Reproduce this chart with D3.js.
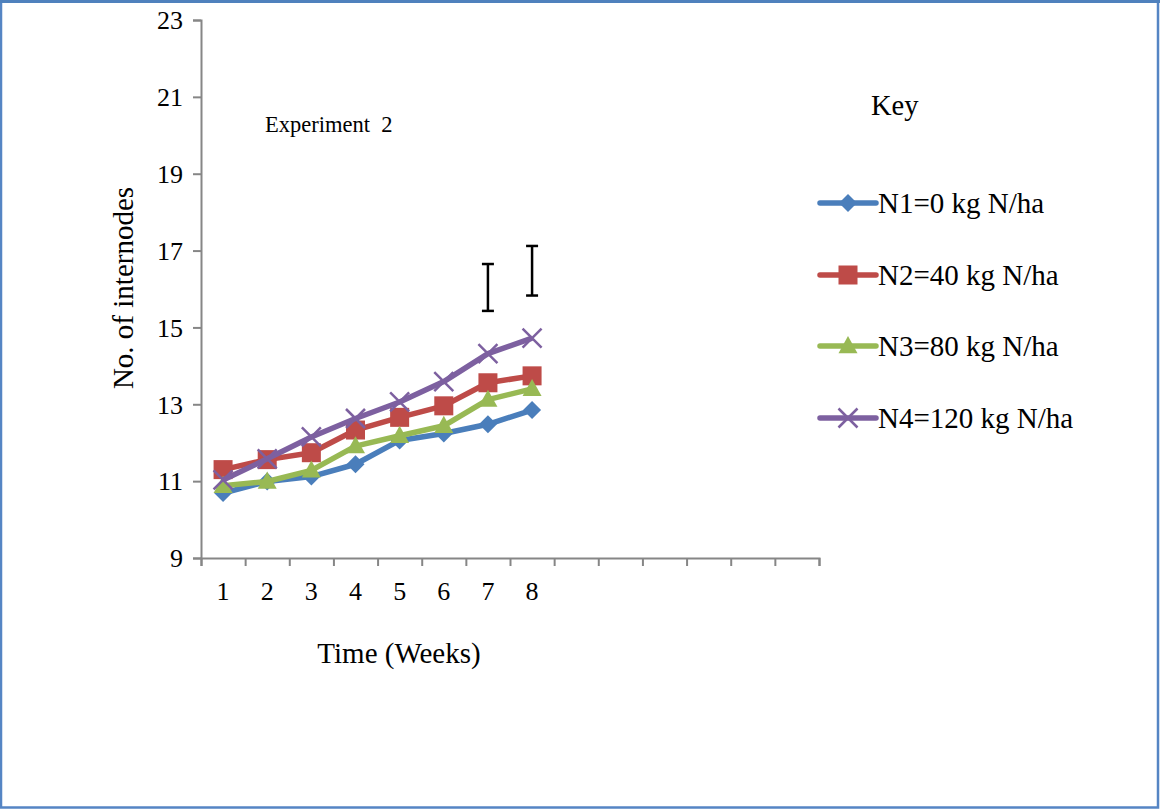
<!DOCTYPE html>
<html>
<head>
<meta charset="utf-8">
<script src="https://cdn.jsdelivr.net/npm/d3@7"></script>
<style>
  html, body { margin: 0; padding: 0; background: #fff; }
  svg { display: block; }
  text { fill: #000; }
</style>
</head>
<body>
<svg id="chart" width="1160" height="810"></svg>
<script>
// Number of internodes over time, Experiment 2
const weeks = ["1", "2", "3", "4", "5", "6", "7", "8"];
const slotCount = 14;               // category slots on the time axis
const yTicks = [9, 11, 13, 15, 17, 19, 21, 23];

const seriesNames = ["N1=0 kg N/ha", "N2=40 kg N/ha", "N3=80 kg N/ha", "N4=120 kg N/ha"];
const n1 = [10.69, 10.99, 11.12, 11.44, 12.06, 12.24, 12.48, 12.85];
const n2 = [11.30, 11.56, 11.74, 12.33, 12.66, 12.96, 13.56, 13.74];
const n3 = [10.88, 10.99, 11.28, 11.91, 12.18, 12.44, 13.12, 13.40];
const n4 = [11.03, 11.58, 12.15, 12.63, 13.06, 13.59, 14.32, 14.72];

// LSD bars at weeks 7 and 8
const lsdWeeks = ["7", "8"];
const lsdLow = [15.43, 15.83];
const lsdHigh = [16.65, 17.12];

const colors = ["#4A7EBB", "#BE4B48", "#98B954", "#7D60A0"];
const shapes = ["diamond", "square", "triangle", "cross"];
const serif = "'Liberation Serif', 'Times New Roman', serif";

const svg = d3.select("#chart");

// frame
svg.append("rect").attr("x", 1).attr("y", 1.5).attr("width", 1157).attr("height", 806)
  .attr("fill", "none").attr("stroke", "#5585C4").attr("stroke-width", 2.5);
svg.append("line").attr("x1", 0).attr("x2", 1160).attr("y1", 1.5).attr("y2", 1.5)
  .attr("stroke", "#4F81BD").attr("stroke-width", 3);

const plotLeft = 201, plotRight = 819, plotTop = 20, plotBottom = 558;

const slotScale = d3.scaleLinear().domain([0, slotCount]).range([plotLeft, plotRight]);
const slotWidth = (plotRight - plotLeft) / slotCount;
const x = d3.scaleBand().domain(weeks).range([plotLeft, plotLeft + slotWidth * weeks.length]).padding(0);
const cx = d => x(d) + x.bandwidth() / 2;
const y = d3.scaleLinear().domain([9, 23]).range([plotBottom, plotTop]);

const axisColor = "#868686";

// y axis
const yAxis = svg.append("g").attr("transform", `translate(${plotLeft},0)`)
  .call(d3.axisLeft(y).tickValues(yTicks).tickSize(8).tickPadding(10).tickFormat(d3.format("d")));
yAxis.select(".domain").attr("stroke", axisColor).attr("stroke-width", 2);
yAxis.selectAll(".tick line").attr("stroke", axisColor).attr("stroke-width", 2);
yAxis.selectAll(".tick text").attr("font-family", serif).attr("font-size", 26).attr("dy", "0.34em");

// x axis: tick marks between categories, labels centred in slots
const xAxis = svg.append("g").attr("transform", `translate(0,${plotBottom})`)
  .call(d3.axisBottom(slotScale).tickValues(d3.range(0, slotCount + 1)).tickSize(8).tickFormat(""));
xAxis.select(".domain").attr("stroke", axisColor).attr("stroke-width", 2);
xAxis.selectAll(".tick line").attr("stroke", axisColor).attr("stroke-width", 2);

const xLabels = svg.append("g").attr("transform", `translate(0,${plotBottom})`)
  .call(d3.axisBottom(x).tickSize(0).tickPadding(24));
xLabels.select(".domain").remove();
xLabels.selectAll(".tick text").attr("font-family", serif).attr("font-size", 26);

// axis titles
svg.append("text").attr("transform", "translate(133,288) rotate(-90)")
  .attr("text-anchor", "middle").attr("font-family", serif).attr("font-size", 29).text("No. of internodes");
svg.append("text").attr("x", 399).attr("y", 663)
  .attr("text-anchor", "middle").attr("font-family", serif).attr("font-size", 29).text("Time (Weeks)");

svg.append("text").attr("x", 265).attr("y", 132)
  .attr("font-family", serif).attr("font-size", 22.5).style("white-space", "pre").text("Experiment  2");

// marker drawing
function drawMarker(g, shape, color, size) {
  const s = size;
  if (shape === "diamond") {
    g.append("path").attr("d", `M0,${-s}L${s},0L0,${s}L${-s},0Z`).attr("fill", color);
  } else if (shape === "square") {
    g.append("rect").attr("x", -s).attr("y", -s).attr("width", 2 * s).attr("height", 2 * s)
      .attr("fill", color);
  } else if (shape === "triangle") {
    g.append("path").attr("d", `M0,${-s * 1.05}L${s},${s * 0.75}L${-s},${s * 0.75}Z`).attr("fill", color);
  } else {
    g.append("path").attr("d", `M${-s},${-s}L${s},${s}M${s},${-s}L${-s},${s}`)
      .attr("stroke", color).attr("stroke-width", 2.5).attr("fill", "none");
  }
}

const allSeries = [n1, n2, n3, n4];
const markerSize = [9, 9.5, 9.5, 9.5];
const line = d3.line().x((d, i) => cx(weeks[i])).y(d => y(d));

allSeries.forEach((vals, k) => {
  const g = svg.append("g");
  g.append("path").datum(vals).attr("d", line).attr("fill", "none")
    .attr("stroke", colors[k]).attr("stroke-width", 5.5).attr("stroke-linejoin", "round");
  vals.forEach((v, i) => {
    drawMarker(g.append("g").attr("transform", `translate(${cx(weeks[i])},${y(v)})`), shapes[k], colors[k], markerSize[k]);
  });
});

// LSD bars
lsdWeeks.forEach((w, i) => {
  const g = svg.append("g").attr("stroke", "#000").attr("stroke-width", 2.5);
  const xc = cx(w);
  g.append("line").attr("x1", xc).attr("x2", xc).attr("y1", y(lsdHigh[i])).attr("y2", y(lsdLow[i]));
  g.append("line").attr("x1", xc - 6).attr("x2", xc + 6).attr("y1", y(lsdHigh[i])).attr("y2", y(lsdHigh[i]));
  g.append("line").attr("x1", xc - 6).attr("x2", xc + 6).attr("y1", y(lsdLow[i])).attr("y2", y(lsdLow[i]));
});

// legend
svg.append("text").attr("x", 871).attr("y", 115).attr("font-family", serif).attr("font-size", 28.5).text("Key");
const legendY = [203, 275, 346, 418];
seriesNames.forEach((name, k) => {
  const g = svg.append("g").attr("transform", `translate(0,${legendY[k]})`);
  g.append("line").attr("x1", 820).attr("x2", 876).attr("y1", 0).attr("y2", 0)
    .attr("stroke", colors[k]).attr("stroke-width", 5.5).attr("stroke-linecap", "round");
  drawMarker(g.append("g").attr("transform", "translate(848,0)"), shapes[k], colors[k], markerSize[k]);
  g.append("text").attr("x", 878).attr("y", 0).attr("dy", "0.33em")
    .attr("font-family", serif).attr("font-size", 29).text(name);
});
</script>
</body>
</html>
